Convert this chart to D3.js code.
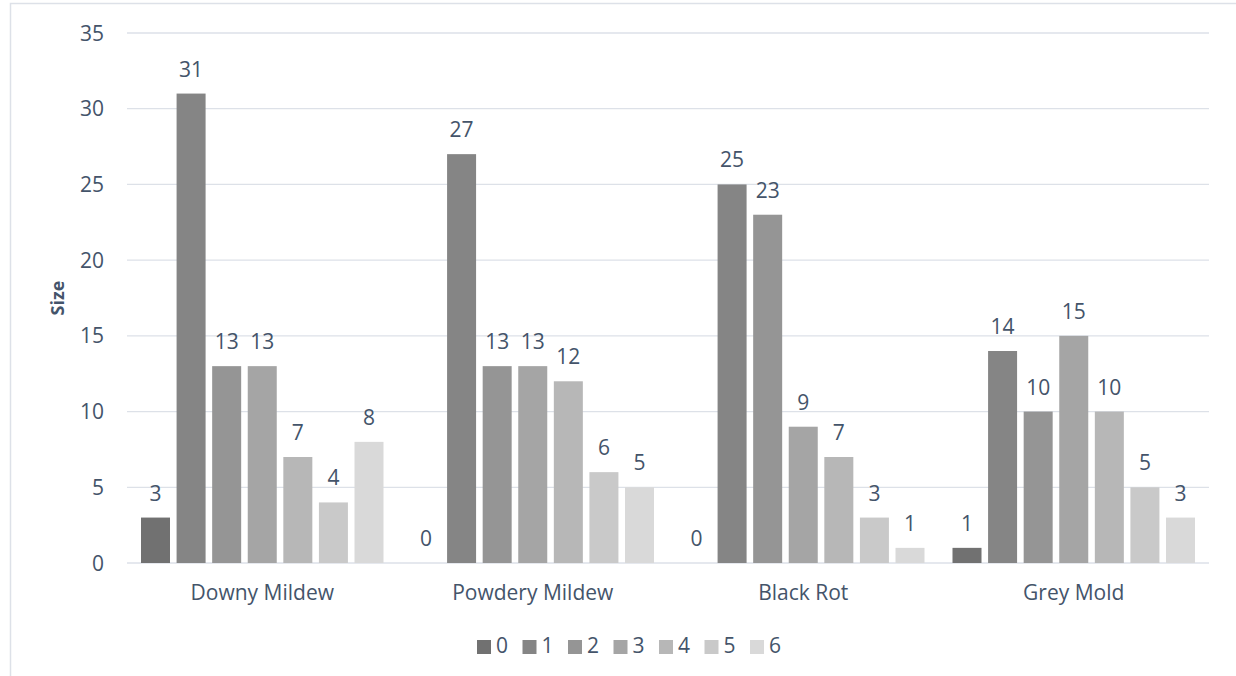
<!DOCTYPE html>
<html><head><meta charset="utf-8">
<script src="https://cdn.jsdelivr.net/npm/d3@7"></script>
<style>body{margin:0;background:#fff;}svg{display:block;}</style>
</head><body>
<script>
const categories = ["Downy Mildew", "Powdery Mildew", "Black Rot", "Grey Mold"];
const seriesNames = ["0", "1", "2", "3", "4", "5", "6"];
const values = [
  [3, 31, 13, 13, 7, 4, 8],
  [0, 27, 13, 13, 12, 6, 5],
  [0, 25, 23, 9, 7, 3, 1],
  [1, 14, 10, 15, 10, 5, 3]
];
const colors = ["#717171", "#858585", "#959595", "#a5a5a5", "#b7b7b7", "#c9c9c9", "#d9d9d9"];
const yTicks = [0, 5, 10, 15, 20, 25, 30, 35];
const yTitle = "Size";

(function() {
const W = 1236, H = 676;
const font = "'Open Sans', sans-serif";
const txt = "#44546a";
const svg = d3.select("body").append("svg").attr("width", W).attr("height", H);
svg.append("rect").attr("x", 10.5).attr("y", 3.5).attr("width", W + 20).attr("height", H + 20)
  .attr("fill", "#fff").attr("stroke", "#dde1e8").attr("stroke-width", 1.5);

const pL = 127, pR = 1209, pT = 33, pB = 563;
const x0 = d3.scaleBand().domain(categories).range([pL, pR]);
const x1 = d3.scaleBand().domain(seriesNames).range([14, x0.bandwidth() - 14]).paddingInner(0.185);
const y = d3.scaleLinear().domain([0, 35]).range([pB, pT]);

const g = svg.append("g");
g.selectAll("line.grid").data(yTicks).join("line")
  .attr("x1", pL).attr("x2", pR).attr("y1", d => y(d)).attr("y2", d => y(d))
  .attr("stroke", "#dde1e8").attr("stroke-width", 1.3);
g.selectAll("text.yt").data(yTicks).join("text")
  .attr("x", 104).attr("y", d => y(d)).attr("dy", "0.36em").attr("text-anchor", "end")
  .attr("font-family", font).attr("font-size", 21).attr("fill", txt).text(d => d);

const groups = g.selectAll("g.cat").data(categories).join("g")
  .attr("transform", d => `translate(${x0(d)},0)`);
groups.each(function(c, ci) {
  const gg = d3.select(this);
  const rows = seriesNames.map((s, si) => ({s, si, v: values[ci][si]}));
  gg.selectAll("rect").data(rows).join("rect")
    .attr("x", d => x1(d.s)).attr("width", x1.bandwidth())
    .attr("y", d => y(d.v)).attr("height", d => y(0) - y(d.v))
    .attr("fill", d => colors[d.si]);
  gg.selectAll("text").data(rows).join("text")
    .attr("x", d => x1(d.s) + x1.bandwidth() / 2).attr("y", d => y(d.v) - 17)
    .attr("text-anchor", "middle").attr("font-family", font).attr("font-size", 21)
    .attr("fill", txt).text(d => d.v);
});
g.selectAll("text.cat").data(categories).join("text")
  .attr("x", d => x0(d) + x0.bandwidth() / 2).attr("y", 600).attr("text-anchor", "middle")
  .attr("font-family", font).attr("font-size", 21).attr("fill", txt).text(d => d);

svg.append("text").attr("transform", `translate(64,${(pT + pB) / 2}) rotate(-90)`)
  .attr("text-anchor", "middle").attr("font-family", font).attr("font-size", 18)
  .attr("font-weight", "bold").attr("fill", txt).text(yTitle);

const lg = svg.append("g");
seriesNames.forEach((s, i) => {
  const lx = 477 + i * 45.5;
  lg.append("rect").attr("x", lx).attr("y", 640).attr("width", 14).attr("height", 14).attr("fill", colors[i]);
  lg.append("text").attr("x", lx + 19).attr("y", 653)
    .attr("font-family", font).attr("font-size", 21).attr("fill", txt).text(s);
});
})();
</script>
</body></html>
